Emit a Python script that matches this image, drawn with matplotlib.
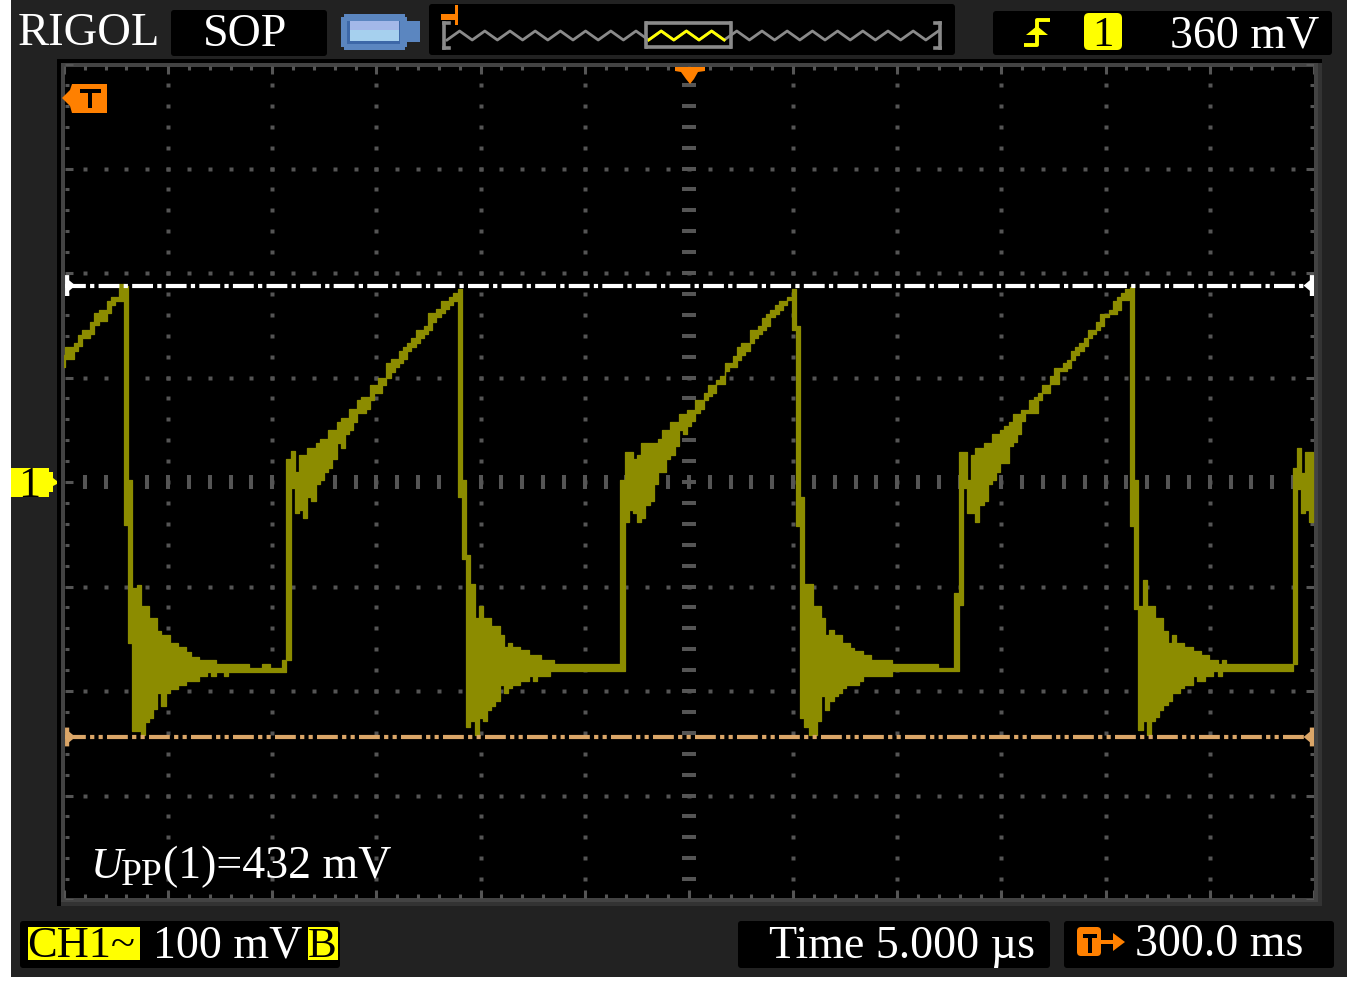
import matplotlib
matplotlib.use("Agg")
import matplotlib.pyplot as plt
from matplotlib.patches import Rectangle, Polygon, FancyBboxPatch

# ---- data: trace read column by column (one LCD column = 0.2 us), envelope in mV ----
SAMPLE_US = 0.2
ramp0_hi = [122,129,129,133,141,145,145,153,162,165,165,173,177,177,189]
ramp0_lo = [110,118,118,125,130,138,138,142,150,154,154,162,169,173,173]
cycle1_hi = [188,2,-101,-99,-119,-119,-130,-130,-143,-146,-146,-154,-154,-158,-158,-163,-167,-167,-170,-170,-170,-170,
             -174,-174,-174,-174,-174,-174,-174,-174,-178,-178,-178,-174,-174,-178,-178,-178,-170,22,
             30,10,26,26,33,33,37,41,41,50,50,57,61,61,70,70,78,81,81,93,93,100,100,114,118,118,125,129,133,138,
             145,145,149,162,162,166,173,173,177,181]
cycle1_lo = [-41,-154,-238,-238,-242,-230,-226,-217,-202,-214,-202,-198,-198,-194,-194,-190,-190,-190,-186,-186,-182,-186,
             -182,-182,-186,-182,-182,-182,-182,-182,-182,-182,-182,-182,-182,-182,-182,-182,-182,-170,
             -6,-30,-27,-34,-14,-18,-2,2,10,13,22,37,33,46,50,57,66,66,70,78,85,85,93,100,105,110,114,118,125,129,
             133,138,142,145,153,158,162,166,169,173]
cycle2_hi = [185,2,-70,-98,-130,-119,-130,-130,-138,-138,-146,-158,-154,-158,-158,-161,-161,-166,-166,-166,-170,-170,-170,
             -174,-174,-174,-174,-174,-174,-174,-174,-174,-174,-174,-174,-174,-174,-174,-174,2,
             29,29,22,26,37,37,37,37,41,50,50,57,57,65,65,69,69,78,78,85,93,93,98,101,114,114,121,129,133,133,
             145,145,149,157,161,165,169,173,173,177]
cycle2_lo = [-14,-74,-234,-229,-242,-226,-229,-218,-214,-210,-194,-202,-197,-194,-194,-190,-190,-186,-190,-186,-186,-186,-181,
             -181,-181,-181,-181,-181,-181,-181,-181,-181,-181,-181,-181,-181,-181,-181,-181,-181,
             -38,-27,-30,-38,-34,-22,-18,-2,10,10,22,26,34,50,46,54,58,66,70,78,82,85,94,94,106,110,110,117,122,125,
             133,138,142,145,149,158,161,165,169,174]
cycle3_hi = [185,149,-14,-98,-98,-119,-119,-130,-146,-142,-146,-146,-154,-154,-159,-162,-162,-166,-166,-170,-170,-170,-170,-170,
             -174,-174,-174,-174,-174,-174,-174,-174,-174,-174,-174,-178,-178,-178,-178,-106,
             29,29,2,26,33,33,37,37,46,46,50,54,57,65,65,69,69,78,81,85,93,93,101,109,109,114,117,125,129,133,
             138,145,145,153,161,161,165,173,177,181,185]
cycle3_lo = [145,-42,-226,-234,-242,-242,-229,-205,-218,-210,-205,-202,-197,-194,-194,-194,-190,-186,-186,-186,-186,-186,-186,-186,
             -181,-181,-181,-181,-181,-181,-181,-181,-181,-181,-181,-181,-181,-181,-181,-181,
             -118,-6,-30,-30,-38,-22,-18,-2,2,10,18,18,34,38,46,58,66,66,66,78,85,85,94,94,106,106,109,117,122,125,
             130,138,142,145,149,158,161,161,165,174,174]
cycle4_hi = [187,2,-119,-94,-119,-119,-130,-130,-143,-154,-146,-154,-154,-158,-158,-162,-162,-166,-166,-170,-170,-174,-170,
             -174,-174,-174,-174,-174,-174,-174,-174,-174,-174,-174,-174,-174,-174,-174,-174,13,33,9,29,29]
cycle4_lo = [-42,-122,-237,-229,-242,-229,-225,-218,-213,-210,-202,-202,-197,-194,-194,-186,-190,-190,-186,-186,-181,-186,-181,
             -181,-181,-181,-181,-181,-181,-181,-181,-181,-181,-181,-181,-181,-181,-181,-181,-174,-7,-30,-27,-38]
segment_start_us = [-0.14, 2.88, 18.91, 34.94, 51.17]
upper_cursor_mv = 188
lower_cursor_mv = -244
x_major_us = [0,5,10,15,20,25,30,35,40,45,50,55,60]
y_major_mv = [-400,-300,-200,-100,0,100,200,300,400]
overview_trace = [0,1,0,1,0,1,0,1,0,1,0,1,0,1,0,1,0,1,0,1,0,1,0,1,0,1,0,1,0,1,0,1,0,1,0,1,0,1,0,1]
label_brand = "RIGOL"
label_mode = "SOP"
label_trigger = "360 mV"
label_channel = "CH1~"
label_scale = "100 mV"
label_time = "Time 5.000 µs"
label_delay = "300.0 ms"
label_upp = "(1)=432 mV"

W, H = 1358, 982
PANEL, BLACK, FRAME, DOT = "#222222", "#000000", "#434343", "#555555"
TRACE, ORANGE, YELLOW, TAN = "#8c8c00", "#ff8000", "#ffff00", "#dba668"
GRAY = "#8a8a8a"
SERIF = "Liberation Serif"

fig = plt.figure(figsize=(W/100, H/100), dpi=100, facecolor="white")
bg = fig.add_axes([0, 0, 1, 1], zorder=0)
bg.set_xlim(0, W); bg.set_ylim(H, 0); bg.axis("off")
ch = fig.add_axes([0, 0, 1, 1], zorder=2)
ch.set_xlim(0, W); ch.set_ylim(H, 0); ch.axis("off")

def box(x0, y0, x1, y1, c, z=2, a=None):
    (a or ch).add_patch(Rectangle((x0, y0), x1-x0, y1-y0, fc=c, ec="none", zorder=z, antialiased=False))

def panel(x0, y0, x1, y1):
    ch.add_patch(FancyBboxPatch((x0+3, y0+3), x1-x0-6, y1-y0-6, boxstyle="round,pad=3,rounding_size=3",
                                fc=BLACK, ec="none", zorder=2))

def txt(x, y, s, size=33, c="white", **kw):
    ch.text(x, y, s, fontsize=size, color=c, family=SERIF, va="baseline", zorder=6, **kw)

box(11, 0, 1347, 977, PANEL, 1, bg)
box(57, 59, 1322, 906, BLACK, 1.5, bg)
box(61, 63, 1322, 906, FRAME, 1.6, bg)
box(1318, 63, 1322, 906, "#333333", 1.7, bg)
box(61, 902, 1322, 906, "#333333", 1.7, bg)
box(65, 67, 1314, 898, BLACK, 1.8, bg)
for b in [(171, 10, 327, 56), (429, 4, 955, 55), (993, 11, 1332, 55), (20, 921, 340, 968),
          (738, 921, 1050, 968), (1064, 921, 1334, 968)]:
    panel(*b)

txt(18, 45, label_brand, 33.6)
txt(203, 46, label_mode)
txt(1170, 47, label_trigger)

# battery
box(341, 17, 407, 47, "#5b86c0", 3); box(344, 14, 405, 50, "#5b86c0", 3)
box(407, 21, 420, 42, "#5b86c0", 3)
box(347, 21, 400, 44, "#3d68a8", 3.1)
box(350, 21, 399, 30, "#a3b8e8", 3.2); box(350, 30, 399, 41, "#a6d0ee", 3.2)

# overview strip
ovx = [447 + 12.6*i for i in range(len(overview_trace))]
ovy = [40 - 9*v for v in overview_trace]
ch.plot(ovx, ovy, color=GRAY, lw=2.0, zorder=3)
i0 = next(i for i, x in enumerate(ovx) if x >= 648)
i1 = next(i for i, x in enumerate(ovx) if x >= 730)
ch.plot(ovx[i0:i1], ovy[i0:i1], color=YELLOW, lw=2.0, zorder=4)
for seg in [((647,23),(730,23)), ((647,47),(730,47)), ((646,23),(646,47)), ((731,23),(731,47)),
            ((444,23),(444,48)), ((444,23),(449,23)), ((444,48),(449,48)),
            ((940,23),(940,48)), ((935,23),(940,23)), ((935,48),(940,48))]:
    ch.plot(*zip(*seg), color=GRAY, lw=2.6, solid_capstyle="projecting", zorder=5)
box(441, 14, 458, 20, ORANGE, 5); box(455, 5, 458, 25, ORANGE, 5)

# trigger edge glyph and channel badge
ch.plot([1024, 1037, 1037, 1050], [45, 45, 20, 20], color=YELLOW, lw=2.8, solid_capstyle="butt", zorder=5)
ch.add_patch(Polygon([(1026,35),(1037,26),(1048,35)], fc=YELLOW, ec="none", zorder=5))
ch.add_patch(FancyBboxPatch((1089, 18), 28, 27, boxstyle="round,pad=5,rounding_size=5", fc=YELLOW, ec="none", zorder=5))
txt(1103, 46, "1", 31, "black", ha="center")

# bottom row
box(28, 927, 140, 960, YELLOW, 3)
txt(27, 957, label_channel, 32, "black")
txt(153, 957, label_scale)
box(308, 927, 338, 960, YELLOW, 3)
txt(308, 957, "B", 31, "black")
txt(769, 958, label_time)
txt(1135, 956, label_delay)
ch.add_patch(FancyBboxPatch((1080, 930), 18, 23, boxstyle="round,pad=3,rounding_size=4", fc=ORANGE, ec="none", zorder=5))
box(1083, 934, 1097, 938, BLACK, 6); box(1088, 934, 1092, 953, BLACK, 6)
box(1100, 940, 1116, 944, ORANGE, 5)
ch.add_patch(Polygon([(1113,933),(1125,942),(1113,951)], fc=ORANGE, ec="none", zorder=5))

# measurement
txt(91, 878, "U", 32, style="italic")
txt(121, 885, "PP", 27)
txt(163, 878, label_upp)

# markers over the screen edge
ch.add_patch(Polygon([(62,98),(70,90),(72,84),(107,84),(107,113),(72,113),(70,106)], fc=ORANGE, ec="none", zorder=6))
box(80, 89, 101, 93, BLACK, 7); box(88, 89, 92, 108, BLACK, 7)
ch.add_patch(Polygon([(675,67),(705,67),(705,71),(698,72),(694,79),(690,84),(686,79),(681,72),(675,71)],
                     fc=ORANGE, ec="none", zorder=6))
ch.add_patch(Polygon([(11,468),(49,468),(49,472),(53,472),(53,478),(57,481),(57,484),(53,486),(53,492),(49,492),(49,497),(11,497)],
                     fc=YELLOW, ec="none", zorder=6))
txt(29, 497, "1", 32, "black", ha="center")

# ---- scope screen (5 us/div, 100 mV/div) ----
ax = fig.add_axes([64/W, 1-900/H, 1250/W, 836/H], zorder=1)
ax.set_xlim(0, 60); ax.set_ylim(-400, 400); ax.axis("off")

xminor = [i*1.0 for i in range(61)]
yminor = [-400 + i*20 for i in range(41)]
for x in x_major_us[1:-1]:
    if x != 30:
        ax.plot([x]*len(yminor[1:-1]), yminor[1:-1], ls="none", marker="s", ms=3.0, mfc=DOT, mec="none", zorder=1)
for y in y_major_mv[1:-1]:
    if y != 0:
        ax.plot(xminor[1:-1], [y]*len(xminor[1:-1]), ls="none", marker="s", ms=3.0, mfc=DOT, mec="none", zorder=1)
ax.plot([30]*len(yminor[1:-1]), yminor[1:-1], ls="none", marker="_", ms=9.4, mew=2.9, color=DOT, zorder=1)
ax.plot(xminor[1:-1], [0]*len(xminor[1:-1]), ls="none", marker="|", ms=9.4, mew=2.9, color=DOT, zorder=1)
# frame ticks
for x in xminor:
    L = 7.7 if x in x_major_us else 3.8
    ax.plot([x, x], [398, 398-L], color=DOT, lw=2.2, solid_capstyle="butt", zorder=1)
    ax.plot([x, x], [-398, -398+L], color=DOT, lw=2.2, solid_capstyle="butt", zorder=1)
for y in yminor:
    L = 0.38 if y in y_major_mv else 0.19
    ax.plot([0.05, 0.05+L], [y, y], color=DOT, lw=2.2, solid_capstyle="butt", zorder=1)
    ax.plot([60, 60-L], [y, y], color=DOT, lw=2.2, solid_capstyle="butt", zorder=1)

# trace
segments = [(ramp0_hi, ramp0_lo), (cycle1_hi, cycle1_lo), (cycle2_hi, cycle2_lo),
            (cycle3_hi, cycle3_lo), (cycle4_hi, cycle4_lo)]
for start, (hi, lo) in zip(segment_start_us, segments):
    t = [start + SAMPLE_US*i for i in range(len(hi)+1)]
    ax.fill_between(t, lo+lo[-1:], hi+hi[-1:], step="post", facecolor=TRACE, edgecolor=TRACE, lw=0.9,
                    antialiased=False, zorder=3)

# cursors
LW = 3.0
ax.plot([0.05, 60], [upper_cursor_mv]*2, color="white", lw=LW, ls=(0, (5.0, 1.02, 1.02, 1.02)),
        dash_capstyle="butt", zorder=4)
ax.plot([0.05, 60], [lower_cursor_mv]*2, color=TAN, lw=LW, ls=(0, (5.0, 1.02, 1.02, 1.02, 1.0, 1.02)),
        dash_capstyle="butt", zorder=4)
for yv, col, h in [(upper_cursor_mv, "white", 10), (lower_cursor_mv, TAN, 9)]:
    for sgn, x0 in [(1, 0.05), (-1, 60.0)]:
        ax.add_patch(Polygon([(x0, yv+h), (x0+sgn*0.2, yv+h), (x0+sgn*0.2, yv+5), (x0+sgn*0.5, yv),
                              (x0+sgn*0.2, yv-5), (x0+sgn*0.2, yv-h), (x0, yv-h)],
                             fc=col, ec="none", zorder=5))

fig.savefig("out.png", dpi=100, facecolor="white")
